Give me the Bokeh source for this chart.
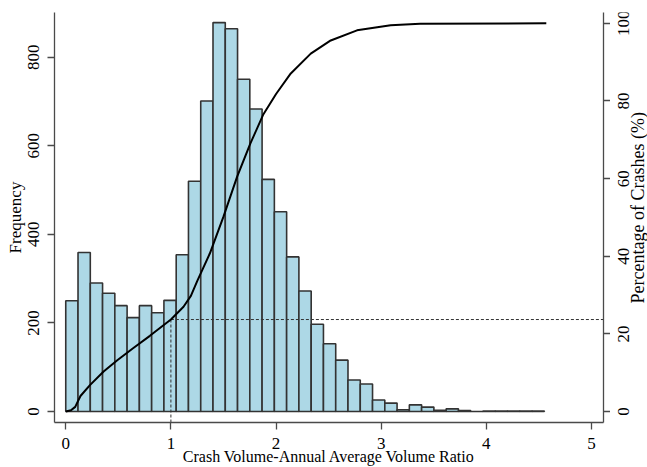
import math
from bokeh.plotting import figure
from bokeh.layouts import row
from bokeh.models import Range1d, LinearAxis, FixedTicker, ColumnDataSource
from bokeh.embed import file_html
from bokeh.resources import INLINE

# ---- data ----
bin_width = 0.1167
counts = [250, 359, 290, 267, 239, 212, 239, 223, 251, 354,
          520, 701, 878, 864, 750, 683, 524, 451, 349, 272,
          197, 153, 116, 71, 62, 26, 19, 4, 15, 10,
          3, 6, 2, 0, 1, 1, 1, 1, 1]

cdf_x = [0.0, 0.05, 0.09, 0.14, 0.23, 0.36, 0.49, 0.64, 0.80, 1.0,
         1.12, 1.19, 1.25, 1.37, 1.50, 1.63, 1.755, 1.88, 2.0, 2.14, 2.33,
         2.52, 2.77, 3.09, 3.37, 4.57]
cdf_pct = [0.0, 0.3, 1.2, 4.0, 6.8, 10.3, 13.2, 16.3, 19.5, 23.7,
           27.0, 29.8, 33.6, 40.7, 50.2, 60.5, 69.0, 76.6, 81.8, 87.1, 92.2,
           95.6, 98.2, 99.5, 99.9, 100.0]

ref_x = 1.0
ref_pct = 23.7

x_ticks = [0, 1, 2, 3, 4, 5]
freq_ticks = [0, 200, 400, 600, 800]
pct_ticks = [0, 20, 40, 60, 80, 100]
pct_title = "Percentage of Crashes (%)"

x_lo, x_hi = -0.107, 5.114
f_lo, f_hi = -24.8, 900.8
p_lo, p_hi = -2.83, 102.8

FONT = "Liberation Serif"
AXIS_COLOR = "#4a4a4a"

pct_range = Range1d(p_lo, p_hi)

p = figure(width=610, height=467, output_backend="svg", toolbar_location=None,
           x_range=Range1d(x_lo, x_hi), y_range=Range1d(f_lo, f_hi),
           min_border_left=54, min_border_right=7, min_border_top=12,
           min_border_bottom=44)
p.extra_y_ranges = {"pct": pct_range}
p.grid.visible = False
p.outline_line_color = None

# histogram
lefts = [i * bin_width for i in range(len(counts))]
src = ColumnDataSource(dict(x=[l + bin_width / 2 for l in lefts], top=counts))
p.vbar(x="x", top="top", bottom=0, width=bin_width, source=src,
       fill_color="#add8e6", line_color="#333333", line_width=1.6)

# reference dashed lines
p.segment(x0=[ref_x], y0=[ref_pct], x1=[ref_x], y1=[p_lo], y_range_name="pct",
          line_color="#333333", line_width=1, line_dash="3 2")
p.segment(x0=[ref_x], y0=[ref_pct], x1=[x_hi], y1=[ref_pct], y_range_name="pct",
          line_color="#333333", line_width=1, line_dash="3 2")

# cumulative curve
p.line(cdf_x, cdf_pct, y_range_name="pct", line_color="black", line_width=2)


def style(ax, tick_orient=None):
    ax.axis_line_color = AXIS_COLOR
    ax.axis_line_width = 1.3
    ax.major_tick_line_color = AXIS_COLOR
    ax.major_tick_line_width = 1.3
    ax.major_tick_out = 7
    ax.major_tick_in = 0
    ax.minor_tick_line_color = None
    ax.major_label_text_font = FONT
    ax.major_label_text_font_size = "17px"
    ax.major_label_text_color = "black"
    ax.axis_label_text_font = FONT
    ax.axis_label_text_font_style = "normal"
    ax.axis_label_text_color = "black"
    if tick_orient is not None:
        ax.major_label_orientation = tick_orient


xa = p.xaxis[0]
style(xa)
xa.ticker = FixedTicker(ticks=x_ticks)
xa.axis_label = "Crash Volume-Annual Average Volume Ratio"
xa.axis_label_text_font_size = "16px"
xa.major_label_standoff = 8
xa.axis_label_standoff = -4

ya = p.yaxis[0]
style(ya, "vertical")
ya.ticker = FixedTicker(ticks=freq_ticks)
ya.axis_label = "Frequency"
ya.axis_label_text_font_size = "17px"
ya.major_label_standoff = 8
ya.axis_label_standoff = 1

# right axis: line + ticks (its labels are set in the side strip below so
# that they read bottom-to-top as in the reference)
ra = LinearAxis(y_range_name="pct")
style(ra)
ra.ticker = FixedTicker(ticks=pct_ticks)
ra.major_label_text_font_size = "0px"
ra.major_label_text_color = None
ra.major_label_standoff = 0
p.add_layout(ra, "right")

# side strip holding the right-axis tick labels and title
p2 = figure(width=37, height=467, output_backend="svg", toolbar_location=None,
            x_range=Range1d(0, 37), y_range=pct_range,
            x_axis_location=None, y_axis_location=None,
            min_border_left=0, min_border_right=0, min_border_top=12,
            min_border_bottom=44)
p2.grid.visible = False
p2.outline_line_color = None
p2.text(x=[12.5] * len(pct_ticks), y=pct_ticks, text=[str(t) for t in pct_ticks],
        angle=math.pi / 2, text_align="center", text_baseline="middle",
        text_font=FONT, text_font_size="17px", text_color="black")
p2.text(x=[27], y=[52.5], text=[pct_title],
        angle=math.pi / 2, text_align="center", text_baseline="middle",
        text_font=FONT, text_font_size="18px", text_color="black")

layout = row(p, p2, spacing=0)
open("out.html", "w").write(file_html(layout, INLINE))
